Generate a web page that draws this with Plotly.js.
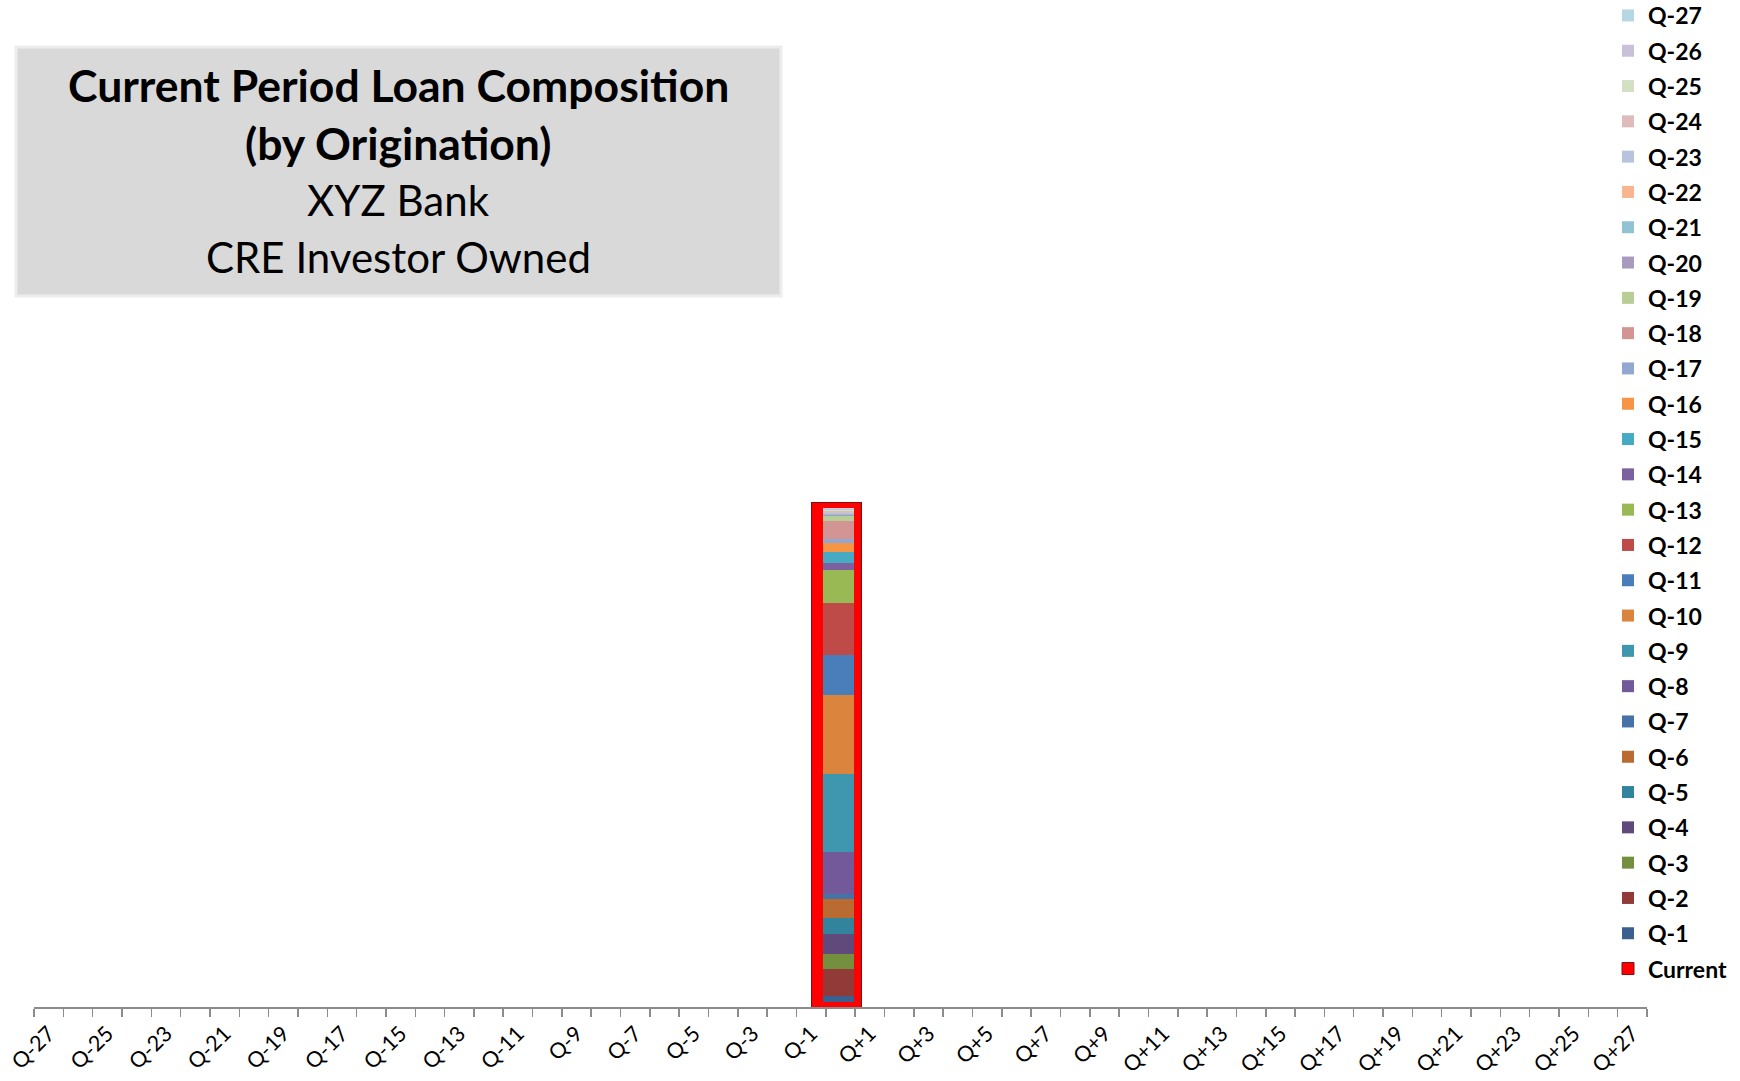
<!DOCTYPE html>
<html><head><meta charset="utf-8">
<script src="https://cdn.plot.ly/plotly-3.0.1.min.js"></script>
<style>html,body{margin:0;padding:0;background:#fff;} #chart{width:1740px;height:1081px;}</style>
</head><body><div id="chart"></div>
<script>
// ---- data ----
const categories = ["Q-27","Q-26","Q-25","Q-24","Q-23","Q-22","Q-21","Q-20","Q-19","Q-18","Q-17","Q-16","Q-15","Q-14",
  "Q-13","Q-12","Q-11","Q-10","Q-9","Q-8","Q-7","Q-6","Q-5","Q-4","Q-3","Q-2","Q-1","Q0",
  "Q+1","Q+2","Q+3","Q+4","Q+5","Q+6","Q+7","Q+8","Q+9","Q+10","Q+11","Q+12","Q+13","Q+14",
  "Q+15","Q+16","Q+17","Q+18","Q+19","Q+20","Q+21","Q+22","Q+23","Q+24","Q+25","Q+26","Q+27"];
const tickLabels = ["Q-27","Q-25","Q-23","Q-21","Q-19","Q-17","Q-15","Q-13","Q-11","Q-9","Q-7","Q-5","Q-3","Q-1",
  "Q+1","Q+3","Q+5","Q+7","Q+9","Q+11","Q+13","Q+15","Q+17","Q+19","Q+21","Q+23","Q+25","Q+27"];
const currentCategory = "Q0";
const currentName = "Current";
const currentValue = 505;
const seriesNames = ["Q-1","Q-2","Q-3","Q-4","Q-5","Q-6","Q-7","Q-8","Q-9","Q-10","Q-11","Q-12","Q-13","Q-14",
  "Q-15","Q-16","Q-17","Q-18","Q-19","Q-20","Q-21","Q-22","Q-23","Q-24","Q-25","Q-26","Q-27"];
const seriesValues = [5.7, 27.7, 15, 20, 15.6, 19.4, 5, 41.7, 78.3, 78.3, 40.3, 52.3, 32.3, 7,
  11.7, 8.4, 4, 18.3, 5.3, 0.8, 0.8, 0.6, 1.0, 1.2, 1.0, 1.0, 1.0];
const seriesColors = ["#3B5F8E","#923A37","#74903F","#5F4A7B","#31849B","#B96B31","#4672A8","#73589A","#3F97AF","#DB843D",
  "#4A7EBB","#BE4B48","#98B954","#7D60A0","#46AAC5","#F69546","#93A8D1","#D39594","#B9CD96","#A99BBD",
  "#92C3D4","#F9B590","#B8C4DE","#DFBBBB","#D3E0C1","#C9C1D9","#B7D6E3"];
const titleLines = ["<b>Current Period Loan Composition</b>","<b>(by Origination)</b>","XYZ Bank","CRE Investor Owned"];

// ---- geometry helpers ----
const W = 1740, H = 1081;
const M = {l: 34, r: 93, t: 7, b: 74, autoexpand: false};
const PW = W - M.l - M.r, PH = H - M.t - M.b;
const px2x = p => (p - M.l) / PW;
const px2y = p => (H - M.b - p) / PH;

const curIdx = categories.indexOf(currentCategory);
const tickVals = tickLabels.map(l => categories.indexOf(l));
const boundaries = categories.map((c, i) => i - 0.5).concat([categories.length - 0.5]);

const FONT = "Lato, 'Open Sans', sans-serif";
const nSeries = seriesNames.length;

const traces = [];
traces.push({
  type: "bar", name: currentName, x: [curIdx], y: [currentValue], width: 1.7, offset: -0.98,
  xaxis: "x", yaxis: "y", legendgroup: currentName, legendrank: nSeries + 1,
  marker: {color: "#FF0000", line: {color: "#7a1010", width: 1}},
  hoverinfo: "name+y"
});
seriesNames.forEach((n, i) => {
  traces.push({
    type: "bar", name: n, x: [curIdx], y: [seriesValues[i]], width: 1.05, offset: -0.6,
    xaxis: "x", yaxis: "y2", legendgroup: n, legendrank: nSeries - i,
    marker: {color: seriesColors[i], line: {width: 0}},
    hoverinfo: "name+y"
  });
});

const lineTop = [84.5, 142, 200, 257.5];
const lineSize = [44.5, 44.5, 42, 42];
const annotations = titleLines.map((t, i) => ({
  xref: "paper", yref: "paper", x: px2x(398), y: px2y(lineTop[i]),
  xanchor: "center", yanchor: "middle", showarrow: false, text: t,
  font: {family: FONT, size: lineSize[i], color: "#000"}
}));

const layout = {
  width: W, height: H, margin: M,
  paper_bgcolor: "#fff", plot_bgcolor: "#fff",
  barmode: "stack", showlegend: true,
  xaxis: {
    range: [-0.5, categories.length - 0.5], tickmode: "array", tickvals: tickVals, ticktext: tickLabels,
    tickangle: -45, ticks: "", showline: true, linecolor: "#8c8c8c", linewidth: 1.5,
    showgrid: false, zeroline: false, automargin: false, ticklabelstandoff: 4,
    tickfont: {family: FONT, size: 21.5, color: "#000"},
    minor: {tickmode: "array", tickvals: boundaries, ticks: "outside", ticklen: 8, tickcolor: "#8c8c8c", tickwidth: 1.5, showgrid: false}
  },
  yaxis: {range: [0, 1000], visible: false, fixedrange: true},
  yaxis2: {range: [-5, 995], overlaying: "y", visible: false, fixedrange: true},
  legend: {
    x: px2x(1608), xanchor: "left", y: 1.013, yanchor: "top",
    traceorder: "grouped", tracegroupgap: 2.4, maxheight: 1081,
    font: {family: FONT, size: 23, color: "#000", weight: 700},
    bgcolor: "rgba(0,0,0,0)"
  },
  shapes: [{
    type: "rect", xref: "paper", yref: "paper",
    x0: px2x(16), x1: px2x(781), y0: px2y(296), y1: px2y(47),
    fillcolor: "#D9D9D9", line: {color: "#EDEDED", width: 3}, layer: "above"
  }],
  annotations: annotations
};

Plotly.newPlot("chart", traces, layout, {displayModeBar: false, staticPlot: true});
</script>
</body></html>
